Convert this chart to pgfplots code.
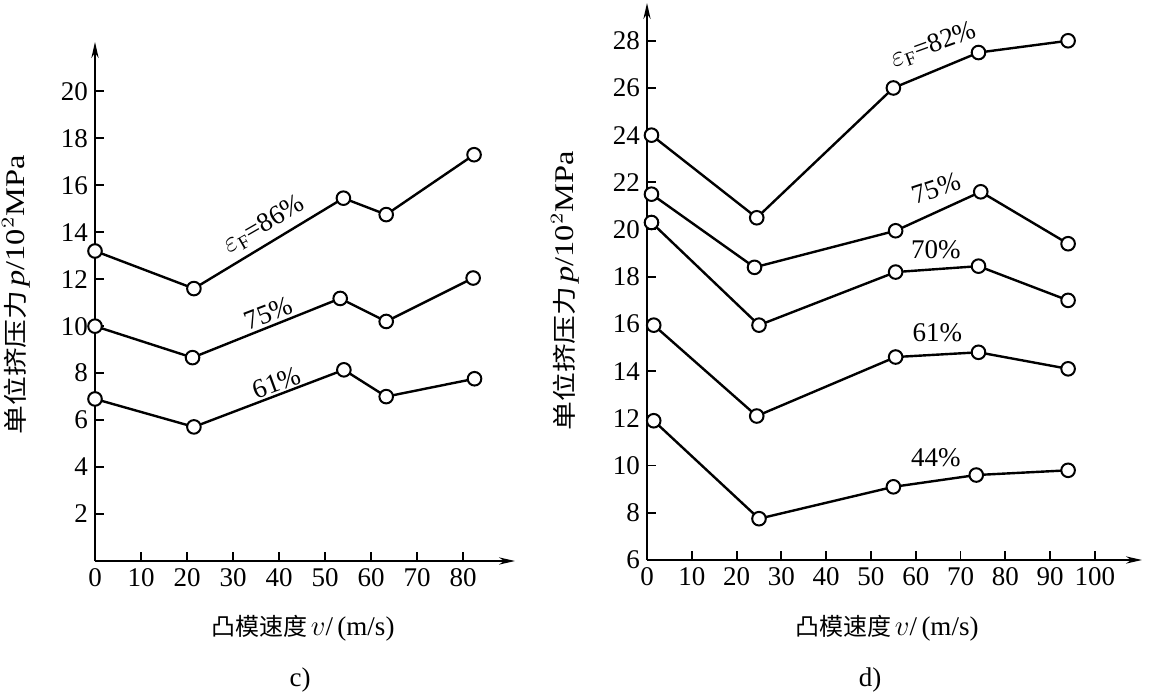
\documentclass[border=0pt]{standalone}
\usepackage{pgfplots}
\pgfplotsset{compat=1.18}
\usetikzlibrary{arrows.meta}
\usepackage{fontspec}
\setmainfont{Liberation Serif}
\newfontfamily\cjk{Noto Sans CJK SC}

\pgfplotsset{
  myaxis/.style={
    axis lines=left,
    axis line style={line width=1pt, -{Stealth[length=8pt,width=3.6pt]}},
    tick align=inside,
    major tick length=4.5pt,
    tick style={black, line width=0.9pt},
    tick label style={font=\fontsize{13.5}{15}\selectfont},
    /pgf/number format/assume math mode=true,
    clip=false,
    scale only axis,
    anchor=south west,
  },
  myline/.style={black, line width=1.2pt, mark=*, mark size=3.4pt,
      mark options={fill=white, draw=black, line width=1pt, solid}},
}

\begin{document}
\begin{tikzpicture}
% ---------------- panel c ----------------
\begin{axis}[myaxis,
  at={(47.5pt,65pt)},
  width=210pt, height=259.5pt,
  xmin=0, xmax=91.3, ymin=0, ymax=22.1,
  xtick={0,10,...,80}, ytick={2,4,...,20},
]
\addplot[myline] coordinates {(0,13.2) (21.5,11.6) (54,15.45) (63.3,14.75) (82.4,17.3)};
\addplot[myline] coordinates {(0,10.0) (21.2,8.66) (53.3,11.18) (63.3,10.2) (82.2,12.05)};
\addplot[myline] coordinates {(0,6.9) (21.5,5.71) (54.1,8.14) (63.3,7.0) (82.5,7.76)};
\node[rotate=30, font=\fontsize{13.5}{15}\selectfont, inner sep=0pt] at (axis cs:36.8,14.3) {$\varepsilon_{\mathrm F}$=86\%};
\node[rotate=21, font=\fontsize{13.5}{15}\selectfont, inner sep=0pt] at (axis cs:37.7,10.55) {75\%};
\node[rotate=20, font=\fontsize{13.5}{15}\selectfont, inner sep=0pt] at (axis cs:39.5,7.6) {61\%};
\end{axis}
% ---------------- panel d ----------------
\begin{axis}[myaxis,
  at={(323.5pt,65.5pt)},
  width=247.5pt, height=278.5pt,
  xmin=0, xmax=110.5, ymin=6, ymax=29.6,
  xtick={0,10,...,100}, ytick={6,8,...,28},
]
\addplot[myline] coordinates {(1,24.0) (24.5,20.5) (55,26.0) (74,27.5) (94,28.0)};
\addplot[myline] coordinates {(1,21.5) (24,18.4) (55.5,19.95) (74.5,21.6) (94,19.4)};
\addplot[myline] coordinates {(1,20.3) (25,15.95) (55.5,18.2) (74,18.45) (94,17.0)};
\addplot[myline] coordinates {(1.5,15.95) (24.5,12.1) (55.5,14.6) (74,14.8) (94,14.1)};
\addplot[myline] coordinates {(1.5,11.9) (25,7.75) (55,9.1) (73.5,9.6) (94,9.8)};
\node[rotate=20, font=\fontsize{13.5}{15}\selectfont, inner sep=0pt] at (axis cs:64,27.8) {$\varepsilon_{\mathrm F}$=82\%};
\node[rotate=18, font=\fontsize{13.5}{15}\selectfont, inner sep=0pt] at (axis cs:64.5,21.75) {75\%};
\node[font=\fontsize{13.5}{15}\selectfont, inner sep=0pt] at (axis cs:64.5,19.15) {70\%};
\node[font=\fontsize{13.5}{15}\selectfont, inner sep=0pt] at (axis cs:64.8,15.65) {61\%};
\node[font=\fontsize{13.5}{15}\selectfont, inner sep=0pt] at (axis cs:64.5,10.35) {44\%};
\end{axis}
% ---------------- labels ----------------
\node[rotate=90, xscale=1.2, inner sep=0pt] at (8pt,198pt)
  {{\cjk\fontsize{12}{14}\selectfont 单位挤压力}\,{\fontsize{13.5}{15}\selectfont\textit{p}/10$^2$MPa}};
\node[rotate=90, xscale=1.2, inner sep=0pt] at (282.5pt,200pt)
  {{\cjk\fontsize{12}{14}\selectfont 单位挤压力}\,{\fontsize{13.5}{15}\selectfont\textit{p}/10$^2$MPa}};
\node[inner sep=0pt] at (151.5pt,31.5pt)
  {{\cjk\fontsize{12}{14}\selectfont 凸模速度}\,{\fontsize{13.5}{15}\selectfont $v$/\,(m/s)}};
\node[inner sep=0pt] at (443.5pt,31.5pt)
  {{\cjk\fontsize{12}{14}\selectfont 凸模速度}\,{\fontsize{13.5}{15}\selectfont $v$/\,(m/s)}};
\node[font=\fontsize{13.5}{15}\selectfont] at (150pt,5.5pt) {c)};
\node[font=\fontsize{13.5}{15}\selectfont] at (435pt,5.5pt) {d)};
\pgfresetboundingbox
\useasboundingbox (0,0) rectangle (578pt,345.5pt);
\end{tikzpicture}
\end{document}
